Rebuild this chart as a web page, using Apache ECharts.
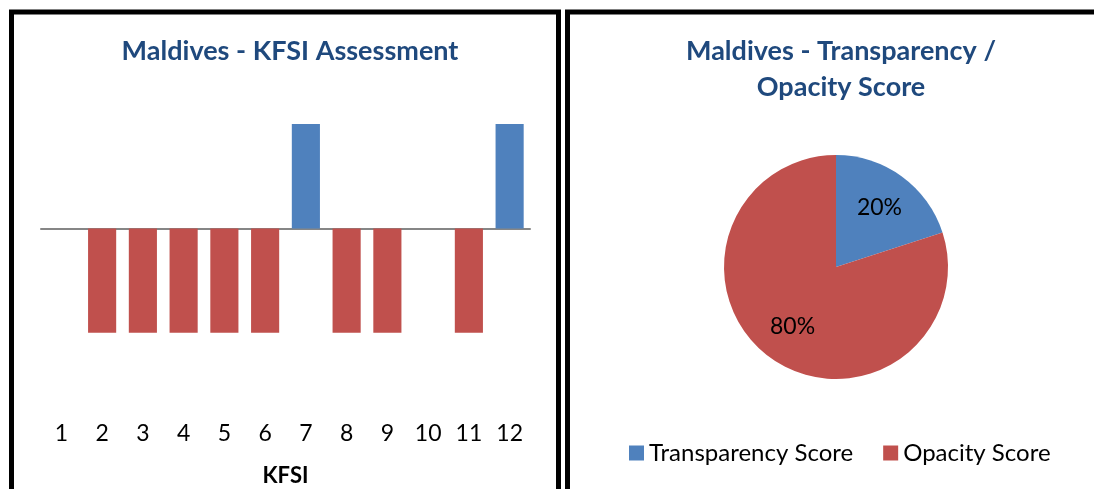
<!DOCTYPE html>
<html>
<head>
<meta charset="utf-8">
<script src="https://cdn.jsdelivr.net/npm/echarts@6/dist/echarts.min.js"></script>
<style>
  html, body { margin: 0; padding: 0; background: #fff; }
  #chart { width: 1094px; height: 489px; }
</style>
</head>
<body>
<div id="chart"></div>
<script>
// KFSI bar data (+1 transparent, -1 opaque, 0 nothing)
const kfsiCategories = ['1', '2', '3', '4', '5', '6', '7', '8', '9', '10', '11', '12'];
const kfsiValues = [0, -1, -1, -1, -1, -1, 1, -1, -1, 0, -1, 1];

// pie data
const pieNames = ['Transparency Score', 'Opacity Score'];
const pieValues = [20, 80];

const BLUE = '#4F81BD';
const RED = '#C0504D';
const TITLE = '#1F497D';
const FONT = 'Lato, "Open Sans", sans-serif';

const chart = echarts.init(document.getElementById('chart'));

const option = {
	animation: false,
	textStyle: {fontFamily: FONT},
	title: [
		{
			text: 'Maldives - KFSI Assessment',
			left: 285, top: 28, textAlign: 'center',
			textStyle: {fontFamily: FONT, fontSize: 27, fontWeight: 'bold', color: TITLE, lineHeight: 36}
		},
		{
			text: 'Maldives - Transparency /\nOpacity Score',
			left: 836, top: 28, textAlign: 'center',
			textStyle: {fontFamily: FONT, fontSize: 27, fontWeight: 'bold', color: TITLE, lineHeight: 36}
		}
	],
	graphic: [
		// panel frames
		{type: 'rect', shape: {x: 11.5, y: 12, width: 547, height: 500}, style: {fill: 'none', stroke: '#000', lineWidth: 5}},
		{type: 'rect', shape: {x: 567.5, y: 12, width: 560, height: 500}, style: {fill: 'none', stroke: '#000', lineWidth: 5}}
	],
	legend: {
		data: pieNames,
		left: 624, top: 436,
		itemWidth: 15, itemHeight: 15, itemGap: 30,
		icon: 'rect',
		textStyle: {fontFamily: FONT, fontSize: 24, color: '#000'}
	},
	grid: {left: 41, right: 564, top: 124, bottom: 153},
	xAxis: [
		{
			type: 'category',
			data: kfsiCategories,
			position: 'bottom',
			axisLine: {show: false, onZero: false},
			axisTick: {show: false},
			axisLabel: {margin: 86, fontSize: 23, color: '#000', fontFamily: FONT},
			name: 'KFSI',
			nameLocation: 'middle',
			nameGap: 129,
			nameTextStyle: {fontSize: 22, fontWeight: 'bold', color: '#000', fontFamily: FONT}
		},
		{
			type: 'category',
			data: kfsiCategories,
			axisLine: {show: true, onZero: true, lineStyle: {color: '#868686', width: 2}},
			axisTick: {show: false},
			axisLabel: {show: false}
		}
	],
	yAxis: {
		type: 'value', min: -1.03, max: 1, show: false,
		splitLine: {show: false}
	},
	series: [
		{
			type: 'bar',
			data: kfsiValues,
			barWidth: '69%',
			itemStyle: {
				color: function (p) { return p.value >= 0 ? BLUE : RED; }
			},
			z: 1
		},
		{
			type: 'pie',
			center: [836, 267],
			radius: 112,
			startAngle: 90,
			clockwise: true,
			data: pieNames.map(function (n, i) {
				return {name: n, value: pieValues[i], itemStyle: {color: i === 0 ? BLUE : RED}};
			}),
			label: {show: false},
			labelLine: {show: false},
			itemStyle: {borderWidth: 0}
		},
		{
			// transparent helper pie, only places the percentage labels
			type: 'pie',
			center: [836, 267],
			radius: 142,
			startAngle: 90,
			clockwise: true,
			silent: true,
			legendHoverLink: false,
			data: pieNames.map(function (n, i) {
				return {name: n + ' ', value: pieValues[i]};
			}),
			itemStyle: {color: 'rgba(0,0,0,0)'},
			label: {
				show: true, position: 'inside',
				formatter: '{d}%',
				fontSize: 23, color: '#000', fontFamily: FONT
			},
			labelLine: {show: false}
		}
	]
};

chart.setOption(option);
</script>
</body>
</html>
